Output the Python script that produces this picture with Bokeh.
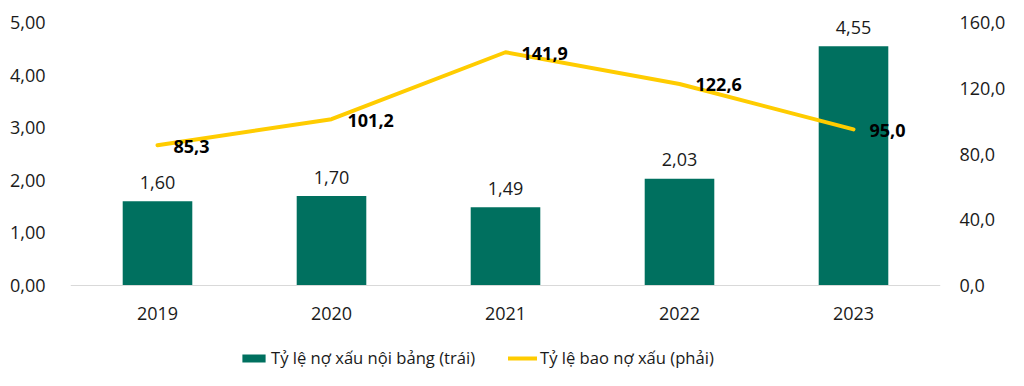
from bokeh.plotting import figure
from bokeh.models import ColumnDataSource, Range1d, LinearAxis, FixedTicker, Legend, LegendItem, Span
from bokeh.embed import file_html
from bokeh.resources import INLINE
from bokeh.core.properties import value

years = ["2019", "2020", "2021", "2022", "2023"]
npl_ratio = [1.60, 1.70, 1.49, 2.03, 4.55]
coverage_ratio = [85.3, 101.2, 141.9, 122.6, 95.0]
left_ticks = [0, 1, 2, 3, 4, 5]
left_tick_labels = ["0,00", "1,00", "2,00", "3,00", "4,00", "5,00"]
right_ticks = [0, 40, 80, 120, 160]
right_tick_labels = ["0,0", "40,0", "80,0", "120,0", "160,0"]
series_names = ["Tỷ lệ nợ xấu nội bảng (trái)", "Tỷ lệ bao nợ xấu (phải)"]

TEAL = "#00705F"
YELLOW = "#FFCC00"
FONT = "Open Sans"
TXT = "#1a1a1a"

W, H = 1008, 370
LEFT, TOP = 70, 10
FW, FH = 872, 360
PLOT_H = 263          # pixel height of the 0..5 / 0..160 span
ABOVE = 12            # frame room above the top tick
BELOW = FH - PLOT_H - ABOVE   # room below the zero line for year labels and legend

lppu = PLOT_H / left_ticks[-1]
rppu = PLOT_H / right_ticks[-1]


def fmt(v, d):
    return f"{v:.{d}f}".replace(".", ",")


src = ColumnDataSource(dict(
    year=years,
    npl=npl_ratio,
    cov=coverage_ratio,
    zero=[0] * len(years),
    npl_lbl=[fmt(v, 2) for v in npl_ratio],
    cov_lbl=[fmt(v, 1) for v in coverage_ratio],
))

p = figure(x_range=years,
           y_range=Range1d(-BELOW / lppu, left_ticks[-1] + ABOVE / lppu),
           width=W, height=H,
           min_border_left=LEFT, min_border_right=W - LEFT - FW,
           min_border_top=TOP, min_border_bottom=H - TOP - FH,
           output_backend="svg", toolbar_location=None)
p.extra_y_ranges = {"right": Range1d(-BELOW / rppu, right_ticks[-1] + ABOVE / rppu)}
p.outline_line_color = None
p.xgrid.visible = False
p.ygrid.visible = False
p.xaxis.visible = False

# category axis baseline
p.add_layout(Span(location=0, dimension="width", line_color="#d9d9d9", line_width=1))

bars = p.vbar(x="year", top="npl", width=0.4, source=src, fill_color=TEAL, line_color=None)
line = p.line(x="year", y="cov", source=src, y_range_name="right", line_color=YELLOW,
              line_width=4, line_join="round", line_cap="round")

# category labels
p.text(x="year", y="zero", text="year", source=src, text_align="center",
       text_baseline="middle", y_offset=28, text_font=value(FONT),
       text_font_size="18px", text_color=TXT)

p.text(x="year", y="npl", text="npl_lbl", source=src, text_align="center",
       text_baseline="alphabetic", y_offset=-19, text_font=value(FONT),
       text_font_size="18px", text_color=TXT)
p.text(x="year", y="cov", text="cov_lbl", source=src, y_range_name="right",
       text_align="left", text_baseline="middle", x_offset=16, y_offset=1,
       text_font=value(FONT), text_font_size="18px", text_font_style="bold", text_color="#000000")

# left axis
ya = p.yaxis[0]
ya.ticker = FixedTicker(ticks=left_ticks)
ya.major_label_overrides = {t: l for t, l in zip(left_ticks, left_tick_labels)}
ya.axis_line_color = None
ya.major_tick_line_color = None
ya.minor_tick_line_color = None
ya.major_label_standoff = 19
ya.major_label_text_font = FONT
ya.major_label_text_font_size = "18px"
ya.major_label_text_color = TXT

# right axis
ra = LinearAxis(y_range_name="right", ticker=FixedTicker(ticks=right_ticks),
                major_label_overrides={t: l for t, l in zip(right_ticks, right_tick_labels)})
ra.axis_line_color = None
ra.major_tick_line_color = None
ra.minor_tick_line_color = None
ra.major_label_standoff = 13
ra.major_label_text_font = FONT
ra.major_label_text_font_size = "18px"
ra.major_label_text_color = TXT
p.add_layout(ra, "right")

legend = Legend(items=[LegendItem(label=series_names[0], renderers=[bars]),
                       LegendItem(label=series_names[1], renderers=[line])],
                orientation="horizontal", location=(169, 1),
                padding=0, margin=0, spacing=33, label_standoff=3,
                glyph_width=29, glyph_height=10, label_height=20,
                border_line_color=None, background_fill_alpha=0,
                label_text_font=FONT, label_text_font_size="16.6px", label_text_color=TXT)
p.add_layout(legend, "center")

open("out.html", "w").write(file_html(p, INLINE))
